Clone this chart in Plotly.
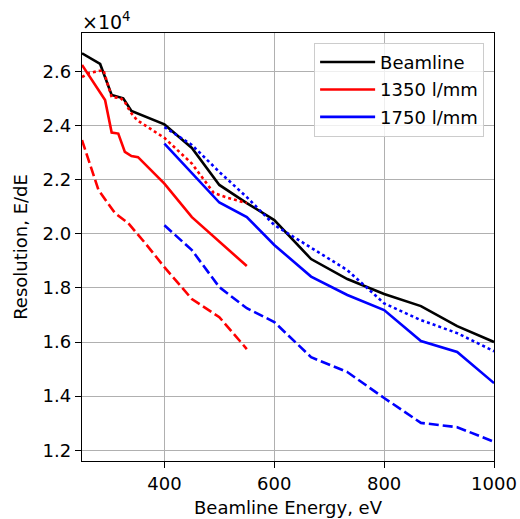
import plotly.graph_objects as go

# Beamline
bl_x = [250, 283, 304, 325, 340, 400, 450, 500, 550, 600, 667, 733, 800, 867, 933, 1000]
bl_y = [26680, 26285, 25140, 25015, 24545, 24050, 23180, 21810, 21140, 20510, 19070, 18330, 17775, 17330, 16590, 16000]

# 1350 l/mm
r_solid_x = [250, 292, 304, 316, 328, 340, 352, 400, 450, 500, 550]
r_solid_y = [26250, 24950, 23750, 23710, 23030, 22880, 22840, 21860, 20620, 19700, 18810]
r_dot_x = [250, 263, 289, 295, 304, 320, 328, 338, 350, 400, 450, 490, 516, 550]
r_dot_y = [25800, 25950, 26060, 25690, 25060, 25030, 24880, 24510, 24210, 23550, 22600, 21510, 21330, 21140]
r_dash_x = [250, 280, 310, 334, 365, 400, 450, 500, 550]
r_dash_y = [23470, 21620, 20770, 20400, 19660, 18770, 17590, 16920, 15740]

# 1750 l/mm
b_x = [400, 450, 500, 550, 600, 667, 733, 800, 867, 933, 1000]
b_solid_y = [23340, 22250, 21160, 20620, 19590, 18420, 17740, 17180, 16035, 15630, 14480]
b_dot_y = [23950, 23290, 22290, 21360, 20330, 19480, 18660, 17430, 16810, 16330, 15660]
b_dash_y = [20320, 19400, 18030, 17250, 16740, 15440, 14890, 13930, 13010, 12850, 12310]

y_ticks = [12000, 14000, 16000, 18000, 20000, 22000, 24000, 26000]
y_tick_text = ["1.2", "1.4", "1.6", "1.8", "2.0", "2.2", "2.4", "2.6"]
x_ticks = [400, 600, 800, 1000]

LW = 2.6
RED = "#ff0000"
BLUE = "#0000ff"
FS = 18

fig = go.Figure()

def add(x, y, color, dash):
    fig.add_trace(go.Scatter(x=x, y=y, mode="lines",
                             line=dict(color=color, width=LW, dash=dash),
                             showlegend=False, hoverinfo="skip"))

add(bl_x, bl_y, "black", "solid")
add(r_solid_x, r_solid_y, RED, "solid")
add(r_dot_x, r_dot_y, RED, "dot")
add(r_dash_x, r_dash_y, RED, "10px,4px")
add(b_x, b_solid_y, BLUE, "solid")
add(b_x, b_dot_y, BLUE, "dot")
add(b_x, b_dash_y, BLUE, "10px,4px")

# legend entries (solid lines)
for i, (nm, c) in enumerate([("Beamline", "black"), ("1350 l/mm", RED), ("1750 l/mm", BLUE)]):
    fig.add_trace(go.Scatter(x=[None], y=[None], mode="lines", name=nm,
                             legendgroup=f"g{i}",
                             line=dict(color=c, width=LW), showlegend=True))

FONT = "DejaVu Sans"
fig.update_layout(
    width=520, height=519,
    margin=dict(l=82, r=26, t=33, b=58, autoexpand=False),
    paper_bgcolor="white", plot_bgcolor="white",
    font=dict(family=FONT, size=FS, color="black"),
    legend=dict(x=0.976, y=0.977, xanchor="right", yanchor="top",
                bgcolor="rgba(255,255,255,0.8)", bordercolor="#cccccc", borderwidth=1,
                font=dict(family=FONT, size=FS), itemwidth=55,
                tracegroupgap=1),
    xaxis=dict(range=[250, 1000], tickvals=x_ticks, ticks="outside", ticklen=6,
               tickwidth=1.2, tickcolor="black", showline=True, linecolor="black",
               linewidth=1.3, mirror=True, showgrid=True, gridcolor="#b0b0b0",
               gridwidth=1.3, zeroline=False, automargin=False,
               title=dict(text="Beamline Energy, eV", standoff=8,
                          font=dict(family=FONT, size=FS)),
               tickfont=dict(family=FONT, size=FS)),
    yaxis=dict(range=[11600, 27430], tickvals=y_ticks, ticktext=y_tick_text,
               ticks="outside", ticklen=6, tickwidth=1.2, tickcolor="black",
               showline=True, linecolor="black", linewidth=1.3, mirror=True,
               showgrid=True, gridcolor="#b0b0b0", gridwidth=1.3, zeroline=False,
               automargin=False,
               title=dict(text="Resolution, E/dE", standoff=10,
                          font=dict(family=FONT, size=FS)),
               tickfont=dict(family=FONT, size=FS)),
    annotations=[dict(text="×10<sup>4</sup>", xref="paper", yref="paper",
                      x=0, y=1, xanchor="left", yanchor="bottom", showarrow=False,
                      font=dict(family=FONT, size=19), xshift=-2, yshift=-2)],
)

fig.write_html("out.html")
